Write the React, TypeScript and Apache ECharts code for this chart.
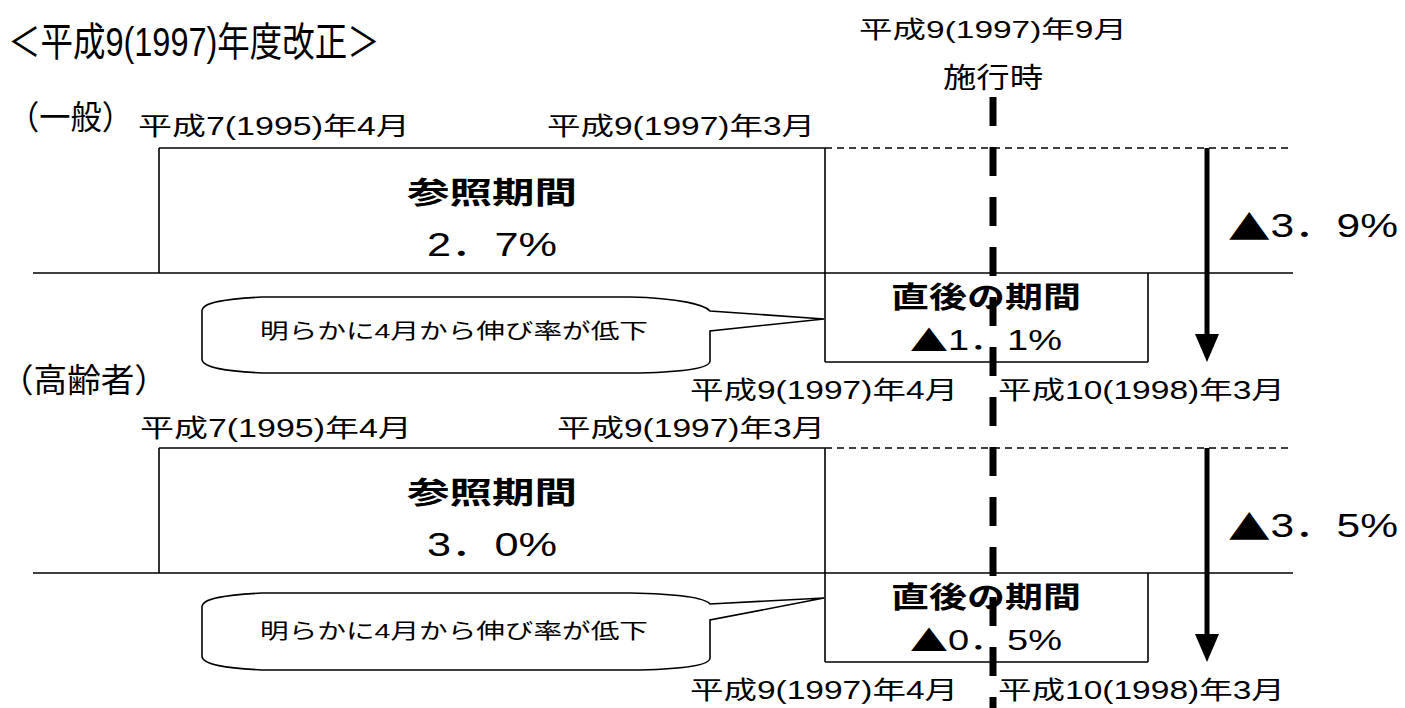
import React, { useEffect, useRef } from "react";
import * as echarts from "echarts";

// ---- data ----
const title = "＜平成9(1997)年度改正＞";
const enforcementDate = "平成9(1997)年9月";
const enforcementLabel = "施行時";
const groups = ["（一般）", "（高齢者）"];
const referenceStart = ["平成7(1995)年4月", "平成7(1995)年4月"];
const referenceEnd = ["平成9(1997)年3月", "平成9(1997)年3月"];
const afterStart = ["平成9(1997)年4月", "平成9(1997)年4月"];
const afterEnd = ["平成10(1998)年3月", "平成10(1998)年3月"];
const referenceName = "参照期間";
const afterName = "直後の期間";
const referenceRate = [2.7, 3.0];
const afterRate = [-1.1, -0.5];
const dropRate = [-3.9, -3.5];
const calloutText = ["明らかに4月から伸び率が低下", "明らかに4月から伸び率が低下"];

const FONT = '"Liberation Sans", "Noto Sans CJK JP", sans-serif';
const CJK = '"Noto Sans CJK JP", sans-serif';

function fmt(v: number): string {
  const s = Math.abs(v).toFixed(1).replace(".", "．") + "%";
  return v < 0 ? "▲" + s : s;
}

let measureCtx: CanvasRenderingContext2D | null = null;
function textW(text: string, size: number, weight: string | number, family = FONT) {
  if (!measureCtx) measureCtx = document.createElement("canvas").getContext("2d");
  measureCtx!.font = `${weight} ${size}px ${family}`;
  return measureCtx!.measureText(text).width;
}

function label(
  text: string,
  x: number,
  y: number,
  size: number,
  targetW: number | null,
  align: "left" | "center" | "right" = "left",
  weight: string | number = "normal"
) {
  let w: number;
  let styleText = text;
  let rich: any = undefined;
  if (text.startsWith("▲")) {
    const rest = text.slice(1);
    w = textW("▲", size, weight, CJK) + textW(rest, size, weight);
    styleText = "{t|▲}{r|" + rest + "}";
    rich = {
      t: { fontFamily: CJK, fontSize: size, fontWeight: weight, fill: "#000" },
      r: { fontFamily: FONT, fontSize: size, fontWeight: weight, fill: "#000" },
    };
  } else {
    w = textW(text, size, weight);
  }
  return {
    type: "text",
    x,
    y,
    scaleX: targetW ? targetW / w : 1,
    z: 10,
    style: {
      text: styleText,
      rich,
      fontSize: size,
      fontFamily: FONT,
      fontWeight: weight,
      fill: "#000",
      align,
      verticalAlign: "middle",
      textAlign: align,
      textVerticalAlign: "middle",
    },
  };
}

function line(x1: number, y1: number, x2: number, y2: number, lw = 1.6, dash?: number[]) {
  return {
    type: "line",
    z: 5,
    shape: { x1, y1, x2, y2 },
    style: { stroke: "#000", lineWidth: lw, lineDash: dash || null },
  };
}

function calloutPath(L: number, R: number, T: number, B: number, jt: number, jb: number, tx: number, ty: number) {
  return [
    `M${L},${T + 14}`,
    `C${L},${T + 5} ${L + 25},${T + 2} ${L + 60},${T}`,
    `L${R - 80},${T}`,
    `C${R - 30},${T + 1} ${R - 5},${jt - 6} ${R},${jt}`,
    `L${tx},${ty}`,
    `L${R},${jb}`,
    `L${R},${B - 12}`,
    `C${R},${B - 4} ${R - 30},${B - 1} ${R - 70},${B}`,
    `L${L + 60},${B}`,
    `C${L + 25},${B - 2} ${L},${B - 5} ${L},${B - 14}`,
    "Z",
  ].join(" ");
}

// callout geometry per group
const calloutGeom = [
  { T: 297, B: 373, jt: 311, jb: 331, tx: 824, ty: 319 },
  { T: 593, B: 670, jt: 604, jb: 620, tx: 824, ty: 598 },
];
calloutGeom.forEach((g, i) => {
  echarts.graphic.registerShape(
    "callout" + i,
    echarts.graphic.extendPath(calloutPath(202, 710, g.T, g.B, g.jt, g.jb, g.tx, g.ty), {}) as any
  );
});

function buildGraphic() {
  const els: any[] = [];
  els.push(label(title, 8, 42, 40, 372));
  els.push(label(enforcementDate, 993, 30, 24, 268, "center"));
  els.push(label(enforcementLabel, 993, 78, 28, 100, "center"));

  const headerPos = [
    { x: 8, y: 118, w: 125 },
    { x: 0, y: 381, w: 168 },
  ];
  const topLabelPos = [
    { sx: 138, ex: 547, y: 126 },
    { sx: 140, ex: 557, y: 428 },
  ];

  groups.forEach((g, i) => {
    const oy = i * 300;
    els.push(label(g, headerPos[i].x, headerPos[i].y, 33, headerPos[i].w));
    els.push(label(referenceStart[i], topLabelPos[i].sx, topLabelPos[i].y, 25, 272));
    els.push(label(referenceEnd[i], topLabelPos[i].ex, topLabelPos[i].y, 25, 268));
    els.push(label(afterStart[i], 958, 390 + oy, 25, 268, "right"));
    els.push(label(afterEnd[i], 998, 390 + oy, 25, 287));

    // boxes
    els.push(line(159, 148 + oy, 825, 148 + oy));
    els.push(line(159, 148 + oy, 159, 273 + oy));
    els.push(line(825, 148 + oy, 825, 362 + oy));
    els.push(line(33, 273 + oy, 1293, 273 + oy));
    els.push(line(1148, 273 + oy, 1148, 362 + oy));
    els.push(line(825, 362 + oy, 1148, 362 + oy));
    els.push(line(825, 148 + oy, 1290, 148 + oy, 1.5, [7, 5]));

    // arrow
    els.push(line(1207, 148 + oy, 1207, 340 + oy, 5));
    els.push({
      type: "polygon",
      z: 5,
      shape: { points: [[1195, 334 + oy], [1219, 334 + oy], [1207, 362 + oy]] },
      style: { fill: "#000" },
    });

    // texts in boxes
    els.push(label(referenceName, 492, 193 + oy, 30, 170, "center", "bold"));
    els.push(label(fmt(referenceRate[i]), 492, 244 + oy, 34, 130, "center"));
    els.push(label(afterName, 986, 298 + oy, 29, 190, "center", "bold"));
    els.push(label(fmt(afterRate[i]), 986, 340 + oy, 29, 152, "center"));
    els.push(label(fmt(dropRate[i]), 1228, 225 + oy, 34, 170));

    // callout
    els.push({
      type: "callout" + i,
      z: 6,
      style: { fill: "#fff", stroke: "#000", lineWidth: 1.6 },
    });
    els.push({ ...label(calloutText[i], 454, 330 + oy, 21, 388, "center"), z: 12 });
  });

  // enforcement dashed vertical line (on top)
  els.push({
    type: "line",
    z: 20,
    shape: { x1: 993, y1: 97, x2: 993, y2: 708 },
    style: { stroke: "#000", lineWidth: 7, lineDash: [29, 21] },
  });
  return els;
}

export default function App() {
  const ref = useRef<HTMLDivElement>(null);
  useEffect(() => {
    document.body.style.margin = "0";
    const chart = echarts.init(ref.current!, null, { renderer: "svg" });
    chart.setOption({
      animation: false,
      backgroundColor: "#fff",
      graphic: { elements: buildGraphic() },
    });
    return () => chart.dispose();
  }, []);
  return <div ref={ref} style={{ position: "fixed", left: 0, top: 0, width: 1405, height: 708 }} />;
}
